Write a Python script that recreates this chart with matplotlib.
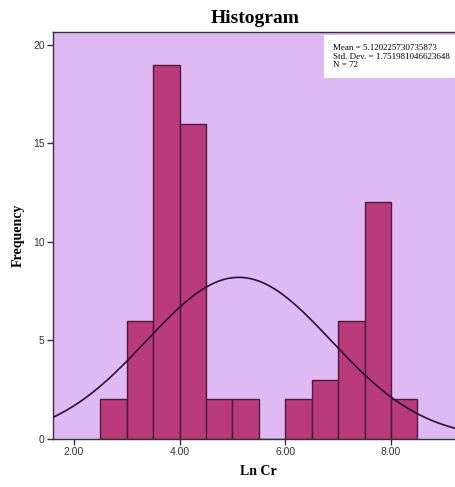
import numpy as np
import matplotlib
matplotlib.use("Agg")
import matplotlib.pyplot as plt

# histogram of Ln Cr, bin width 0.5
bin_edges = [2.5, 3.0, 3.5, 4.0, 4.5, 5.0, 5.5, 6.0, 6.5, 7.0, 7.5, 8.0, 8.5]
counts = [2, 6, 19, 16, 2, 2, 0, 2, 3, 6, 12, 2]
mean = 5.120225730735873
std = 1.751981046623648
n = 72

fig = plt.figure(figsize=(4.56, 4.87), dpi=100)
ax = fig.add_axes([0.116, 0.099, 0.90, 0.835])
ax.set_facecolor("#deb9f3")

lefts = bin_edges[:-1]
widths = np.diff(bin_edges)
ax.bar(lefts, counts, width=widths, align="edge", color="#b93b7b",
       edgecolor="#4a1a38", linewidth=1.0, zorder=2)

# fitted normal curve scaled to counts
xs = np.linspace(1.5, 9.5, 400)
bw = widths[0]
ys = n * bw / (std * np.sqrt(2 * np.pi)) * np.exp(-0.5 * ((xs - mean) / std) ** 2)
ax.plot(xs, ys, color="#2a1030", linewidth=1.2, zorder=3)

ax.set_xlim(1.6, 9.37)
ax.set_ylim(0, 20.65)
ax.set_xticks([2, 4, 6, 8])
ax.set_xticklabels(["2.00", "4.00", "6.00", "8.00"])
ax.set_yticks([0, 5, 10, 15, 20])
for lab in ax.get_xticklabels() + ax.get_yticklabels():
    lab.set_family("Liberation Sans")
    lab.set_fontsize(7.5)
    lab.set_color("#333333")
ax.tick_params(direction="out", length=4, width=1, color="#333333", pad=2)
for sp in ax.spines.values():
    sp.set_color("#333333")
    sp.set_linewidth(1.0)

ax.set_xlabel("Ln Cr", family="Liberation Serif", fontweight="bold", fontsize=10, labelpad=6)
ax.set_ylabel("Frequency", family="Liberation Serif", fontweight="bold", fontsize=10, labelpad=6)
fig.text(0.56, 0.962, "Histogram", family="Liberation Serif", fontweight="bold",
         fontsize=14, ha="center", va="center")

stats = "Mean = %s\nStd. Dev. = %s\nN = %d" % (repr(mean), repr(std), n)
ax.text(0.683, 0.970, stats, transform=ax.transAxes, family="Liberation Serif",
        fontsize=6.5, va="top", ha="left", linespacing=1.05,
        bbox=dict(boxstyle="square,pad=1.0", facecolor="white", edgecolor="none"),
        zorder=5)

fig.savefig("out.png", dpi=100)
